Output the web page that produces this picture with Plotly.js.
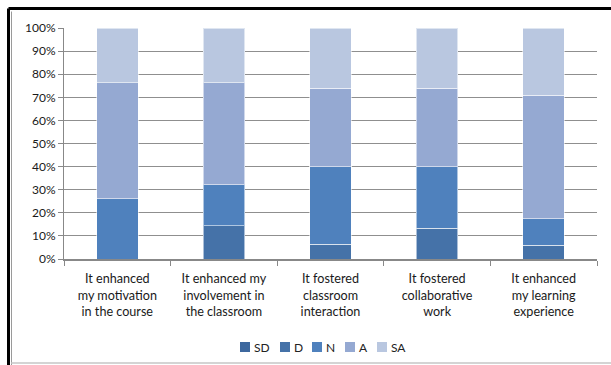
<!DOCTYPE html>
<html>
<head>
<meta charset="utf-8">
<script src="https://cdn.plot.ly/plotly-3.0.1.min.js"></script>
<style>html,body{margin:0;padding:0;background:#fff;}#chart{width:611px;height:365px;}</style>
</head>
<body>
<div id="chart"></div>
<script>
var categories = [
  "It enhanced<br>my motivation<br>in the course",
  "It enhanced my<br>involvement in<br>the classroom",
  "It fostered<br>classroom<br>interaction",
  "It fostered<br>collaborative<br>work",
  "It enhanced<br>my learning<br>experience"
];
var seriesNames = ["SD", "D", "N", "A", "SA"];
var SD = [0, 0, 0, 0, 0];
var D  = [0, 14.4, 6.4, 13.3, 5.9];
var N  = [26.1, 17.8, 33.6, 26.7, 11.6];
var A  = [50.1, 44.0, 33.9, 33.9, 53.4];
var SA = [23.8, 23.8, 26.1, 26.1, 29.1];
var seriesColors = ["#3d689e", "#4572a8", "#4f81bd", "#95a9d2", "#b9c7e0"];
var yTickVals = [0, 10, 20, 30, 40, 50, 60, 70, 80, 90, 100];
var yTickText = ["0%", "10%", "20%", "30%", "40%", "50%", "60%", "70%", "80%", "90%", "100%"];

var seriesValues = [SD, D, N, A, SA];
var traces = seriesNames.map(function (name, i) {
  return {
    type: "bar",
    name: name,
    x: categories,
    y: seriesValues[i],
    marker: { color: seriesColors[i], line: { color: "rgba(255,255,255,0.55)", width: 1 } },
    hoverinfo: "name+y",
    showlegend: false
  };
});

// plot area in pixels: x 64..597, y 28..259
var plotL = 64, plotW = 533, plotT = 28, plotH = 231;
function px(xp) { return (xp - plotL) / plotW; }
function py(yp) { return (plotT + plotH - yp) / plotH; }

// custom compact legend (Excel style)
var legendStart = 240, legendSq = 10, legendTextGap = 2, legendItemGap = 12, legendCy = 347;
var legendTextW = { SD: 16, D: 8, N: 9, A: 8, SA: 15 };
var shapes = [];
var annotations = [];
var cursor = legendStart;
seriesNames.forEach(function (name, i) {
  shapes.push({
    type: "rect", xref: "paper", yref: "paper",
    x0: px(cursor), x1: px(cursor + legendSq),
    y0: py(legendCy + legendSq / 2), y1: py(legendCy - legendSq / 2),
    fillcolor: seriesColors[i], line: { width: 0 }
  });
  annotations.push({
    xref: "paper", yref: "paper",
    x: px(cursor + legendSq + legendTextGap), y: py(legendCy),
    xanchor: "left", yanchor: "middle",
    text: name, showarrow: false,
    font: { size: 12, color: "#222222" }
  });
  cursor += legendSq + legendTextGap + legendTextW[name] + legendItemGap;
});

// outer frame
shapes.push(
  { type: "line", xref: "paper", yref: "paper", x0: px(8.5), x1: px(8.5), y0: py(8.5), y1: py(370), line: { color: "#000000", width: 3 } },
  { type: "line", xref: "paper", yref: "paper", x0: px(8.5), x1: px(615), y0: py(8.5), y1: py(8.5), line: { color: "#000000", width: 3 } },
  { type: "line", xref: "paper", yref: "paper", x0: px(11.5), x1: px(11.5), y0: py(11.5), y1: py(370), line: { color: "#9a9a9a", width: 1 } },
  { type: "line", xref: "paper", yref: "paper", x0: px(11.5), x1: px(615), y0: py(363), y1: py(363), line: { color: "#d4d4d4", width: 2 } }
);

var layout = {
  width: 611,
  height: 365,
  paper_bgcolor: "#ffffff",
  plot_bgcolor: "#ffffff",
  margin: { l: 64, r: 14, t: 28, b: 106, autoexpand: false },
  barmode: "stack",
  bargap: 0.61,
  font: { family: "Lato, 'Open Sans', sans-serif", size: 12, color: "#1a1a1a" },
  xaxis: {
    type: "category",
    tickson: "boundaries",
    ticks: "outside",
    ticklen: 5,
    tickcolor: "#888888",
    showline: true,
    linecolor: "#888888",
    linewidth: 2,
    showgrid: false,
    automargin: false,
    ticklabelstandoff: 7,
    tickfont: { size: 12.6, color: "#1a1a1a" },
    fixedrange: true
  },
  yaxis: {
    range: [0, 100],
    tickvals: yTickVals,
    ticktext: yTickText,
    ticks: "outside",
    ticklen: 5,
    tickcolor: "#888888",
    showline: true,
    linecolor: "#888888",
    linewidth: 1,
    showgrid: true,
    gridcolor: "#8f8f8f",
    gridwidth: 1,
    zeroline: false,
    automargin: false,
    tickfont: { size: 12, color: "#1a1a1a" },
    fixedrange: true
  },
  showlegend: false,
  shapes: shapes,
  annotations: annotations
};

Plotly.newPlot("chart", traces, layout, { displayModeBar: false, staticPlot: true });
</script>
</body>
</html>
